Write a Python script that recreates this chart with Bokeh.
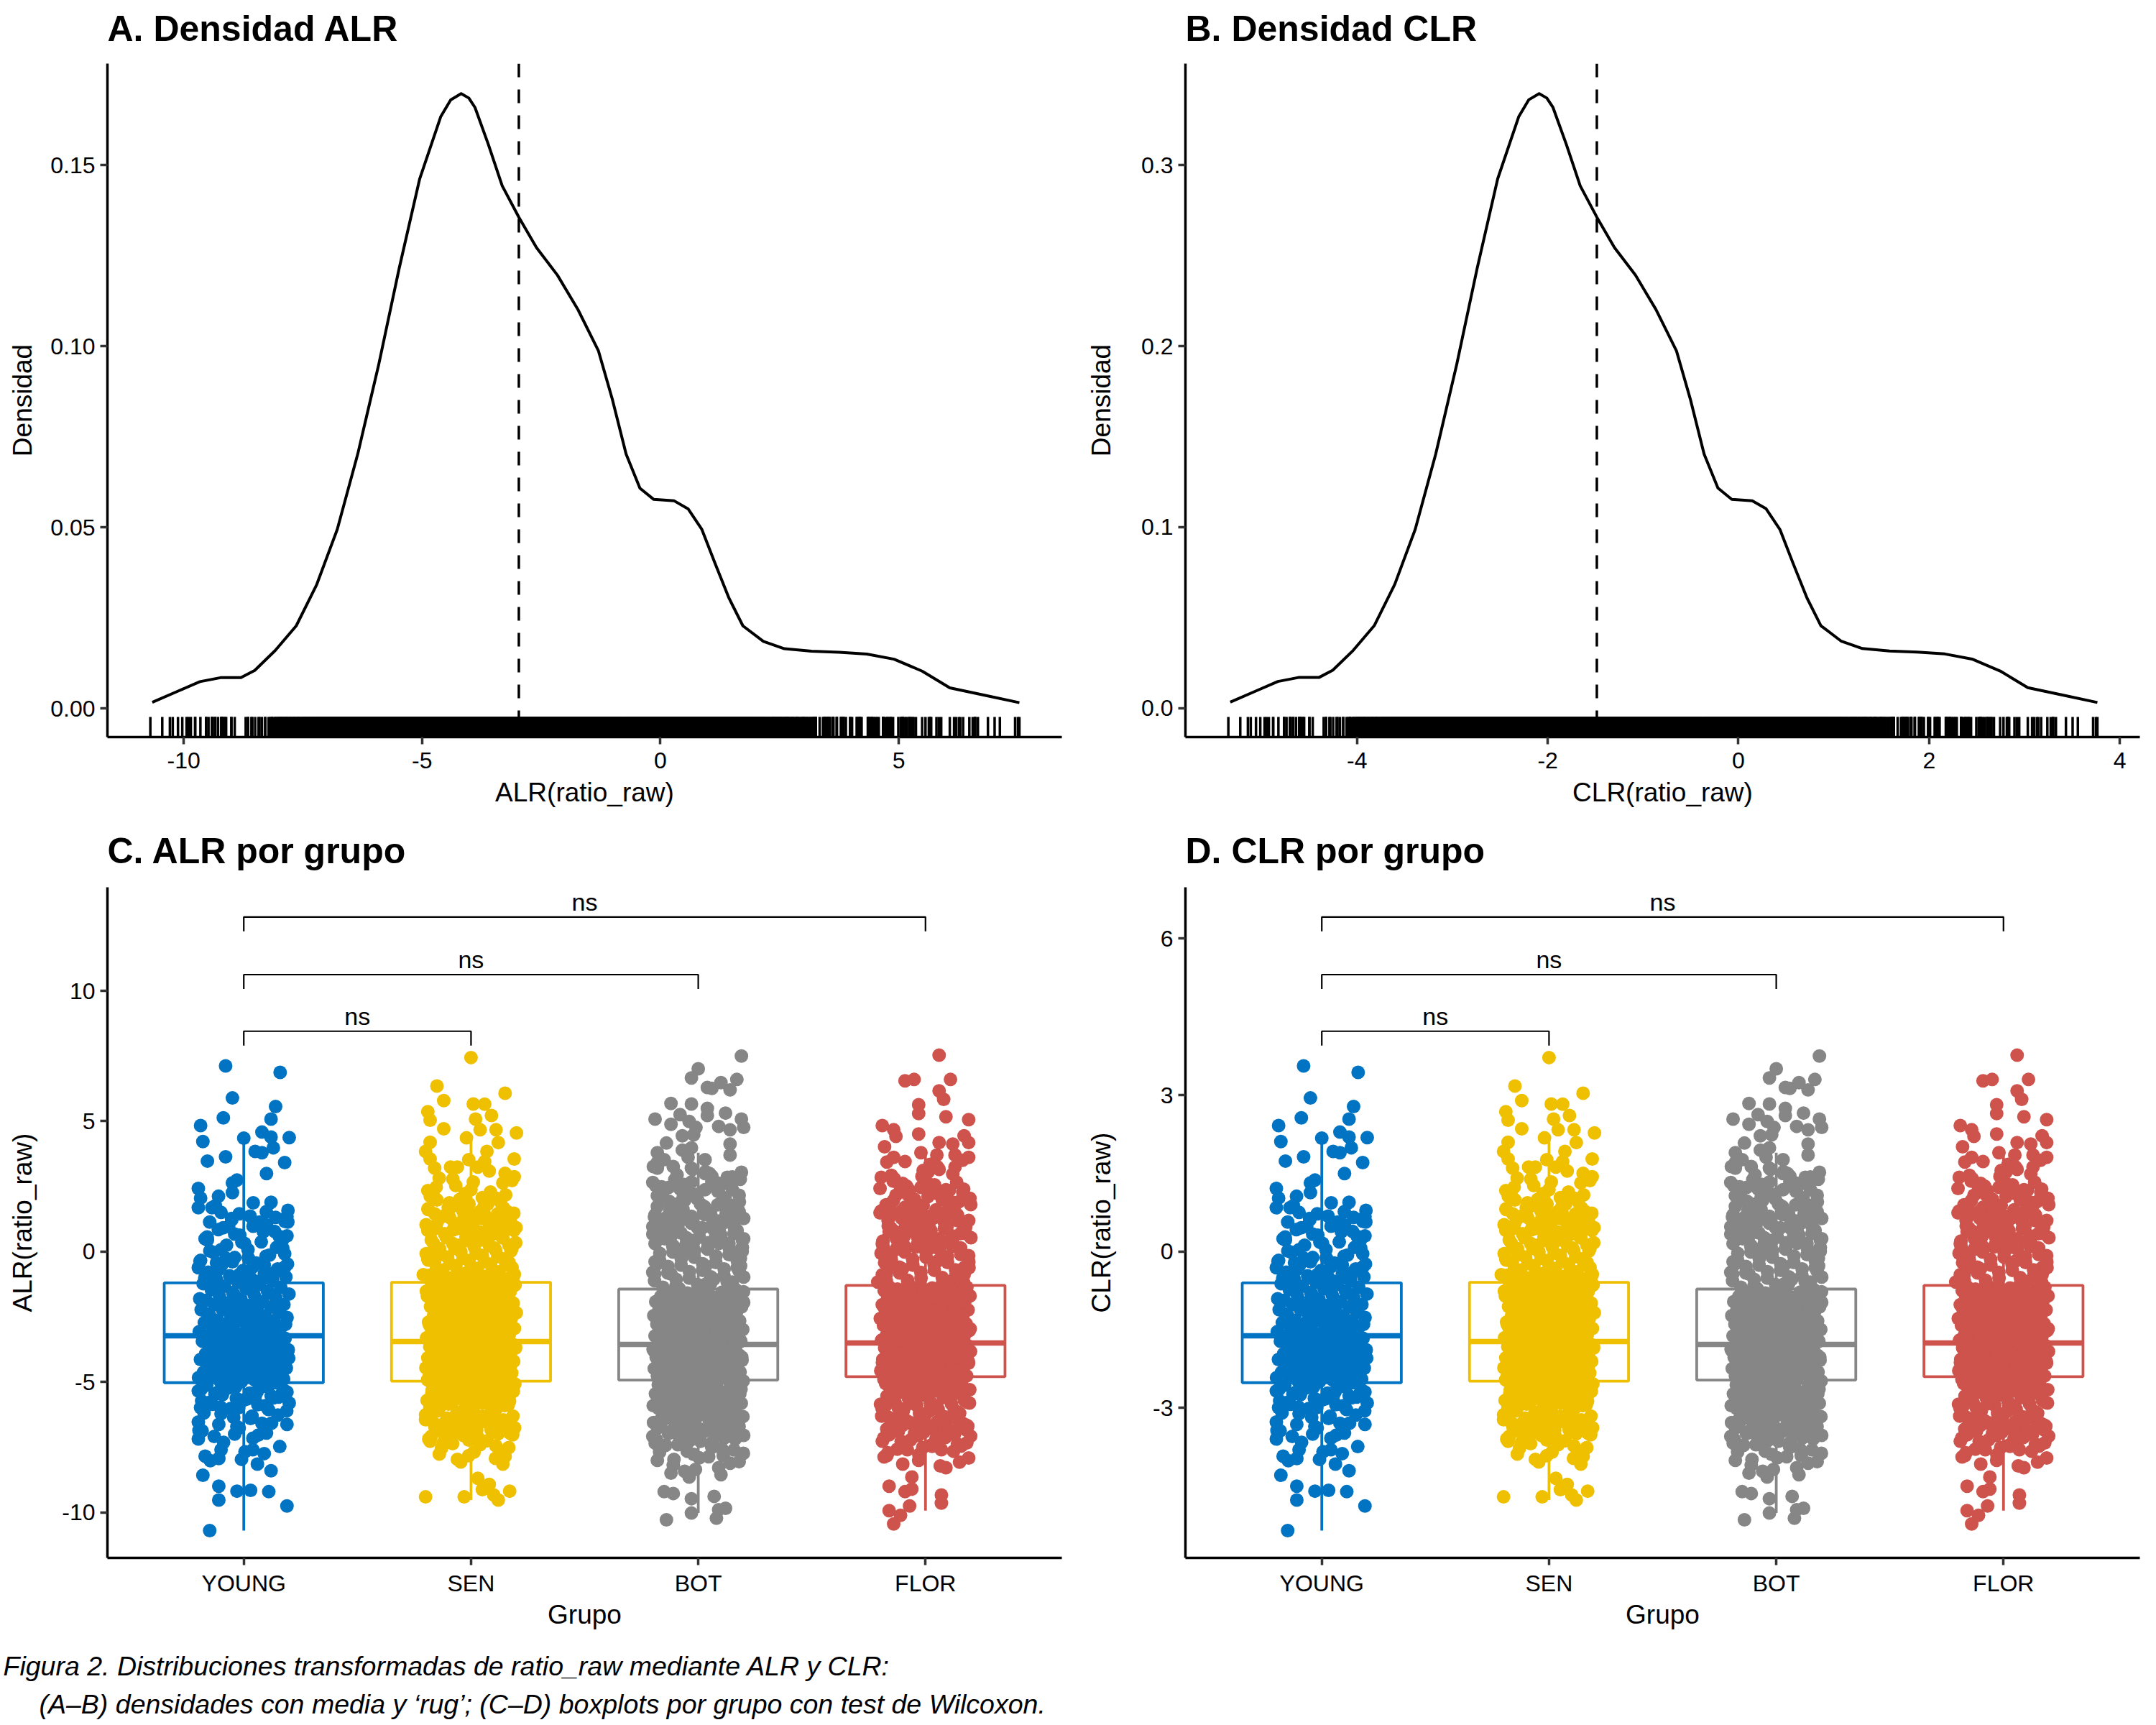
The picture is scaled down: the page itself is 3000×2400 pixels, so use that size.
from bokeh.plotting import figure
from bokeh.layouts import column, row
from bokeh.models import Range1d, FixedTicker
from bokeh.embed import file_html
from bokeh.resources import INLINE
from bokeh.core.properties import value

FONT = "Liberation Sans"
TICK_FS = "32px"
AXIS_FS = "37px"
TITLE_FS = "50px"

groups = ["YOUNG", "SEN", "BOT", "FLOR"]
colors = ["#0073C2", "#EFC000", "#868686", "#CD534C"]
panel_titles = ["A. Densidad ALR", "B. Densidad CLR", "C. ALR por grupo", "D. CLR por grupo"]

alr_dens_x = [-10.66, -10.1, -9.66, -9.23, -8.8, -8.51, -8.08, -7.64, -7.21, -6.78, -6.35, -5.91, -5.48, -5.05,
              -4.61, -4.40, -4.18, -4.02, -3.89, -3.61, -3.32, -2.97, -2.6, -2.16, -1.73, -1.30, -1.01, -0.72,
              -0.43, -0.14, 0.29, 0.58, 0.87, 1.15, 1.44, 1.73, 2.16, 2.6, 3.17, 3.75, 4.33, 4.9, 5.49, 6.07,
              6.78, 7.53]
alr_dens_y = [0.0017, 0.0049, 0.0074, 0.0085, 0.0085, 0.0105, 0.0160, 0.0228, 0.0342, 0.0494, 0.0702, 0.0949,
              0.1215, 0.1462, 0.1633, 0.1680, 0.1697, 0.1685, 0.1659, 0.1557, 0.1443, 0.1356, 0.1272, 0.1196,
              0.1101, 0.0987, 0.0854, 0.0702, 0.0608, 0.0577, 0.0573, 0.0551, 0.0494, 0.0399, 0.0304, 0.0228,
              0.0185, 0.0165, 0.0158, 0.0155, 0.0150, 0.0136, 0.0103, 0.0057, 0.0037, 0.0016]
clr_dens_x = [-5.33, -5.05, -4.83, -4.615, -4.40, -4.255, -4.04, -3.82, -3.605, -3.39, -3.175, -2.955, -2.74,
              -2.525, -2.305, -2.20, -2.09, -2.01, -1.945, -1.805, -1.66, -1.485, -1.30, -1.08, -0.865, -0.65,
              -0.505, -0.36, -0.215, -0.07, 0.145, 0.29, 0.435, 0.575, 0.72, 0.865, 1.08, 1.30, 1.585, 1.875,
              2.165, 2.45, 2.745, 3.035, 3.39, 3.765]
clr_dens_y = [0.0034, 0.0098, 0.0148, 0.0170, 0.0170, 0.0210, 0.0320, 0.0456, 0.0684, 0.0988, 0.1404, 0.1898,
              0.2430, 0.2924, 0.3266, 0.3360, 0.3394, 0.3370, 0.3318, 0.3114, 0.2886, 0.2712, 0.2544, 0.2392,
              0.2202, 0.1974, 0.1708, 0.1404, 0.1216, 0.1154, 0.1146, 0.1102, 0.0988, 0.0798, 0.0608, 0.0456,
              0.0370, 0.0330, 0.0316, 0.0310, 0.0300, 0.0272, 0.0206, 0.0114, 0.0074, 0.0032]
mean_alr = -2.97
mean_clr = -1.485

# ---------------- ALR values per group (estimated from panel C) ----------------
# sparse tails: read individually (value and horizontal jitter)
young_tail_dx = [-0.08, 0.16, -0.05, 0.14, -0.09, 0.12, -0.19, 0.08, 0.00, 0.20, 0.12, -0.18, 0.13, 0.05, 0.08,
                 -0.08, -0.16, 0.18, 0.10, -0.03, -0.05, -0.05, -0.20, -0.19, 0.12, -0.20, -0.14, -0.10, -0.02,
                 -0.15, 0.07, 0.14, 0.19, 0.19, -0.16, -0.04, -0.10, 0.02, 0.18, -0.19, 0.18, -0.20, -0.12, -0.05,
                 0.09,
                 -0.15, 0.19, -0.11, -0.18, -0.11, -0.03, 0.03, 0.11, 0.12, -0.17, -0.11, -0.01, 0.06, 0.09, -0.10,
                 0.04, -0.20, -0.13, -0.04, 0.04, 0.10, -0.20, -0.11, -0.02, 0.08, 0.19, -0.19, -0.10, 0.03, 0.15,
                 0.20, -0.20, 0.19]
young_tail_y = [7.12, 6.87, 5.89, 5.56, 5.13, 5.08, 4.83, 4.58, 4.35, 4.37, 4.39, 4.22, 3.98, 3.84, 3.79, 3.63,
                3.47, 3.41, 2.99, 2.74, 2.63, 2.26, 2.42, 2.05, 1.89, 1.68, 1.68, 1.50, 1.45, 1.13, 1.13, 1.31,
                1.34, 0.60, 0.44, 0.67, 0.07, -0.25, -0.09, -0.34, -0.60, -0.62, -0.43, -0.39, -0.52,
                -10.70, -9.76, -9.53, -8.58, -9.00, -9.19, -9.16, -9.21, -8.41, -7.85, -7.94, -7.97, -8.15, -7.75,
                -7.60, -7.60, -7.19, -7.09, -7.00, -7.16, -6.96, -6.54, -6.63, -6.77, -6.59, -6.63, -5.99, -6.22,
                -6.40, -6.27, -5.81, -5.35, -5.39]
sen_tail_dx = [0.00, -0.15, 0.15, -0.12, 0.01, 0.06, -0.19, 0.09, -0.18, 0.02, -0.12, 0.04, 0.11, 0.20, -0.02,
               0.12, -0.18, -0.20, 0.07, 0.19, -0.18, -0.01, 0.06, -0.09, -0.06, -0.16, 0.03, 0.08, 0.15, 0.19,
               -0.14, -0.08, 0.01, 0.14, -0.19, 0.05, 0.11, 0.13, -0.15, -0.10, -0.05, 0.04, 0.16, -0.16, -0.03,
               0.08, -0.19, 0.15, 0.18, -0.19, -0.21, 0.19,
               -0.20, -0.03, 0.12, 0.10, 0.17, 0.05, 0.03, 0.08, 0.14, 0.15, -0.06, -0.01, -0.13, -0.18, 0.04,
               0.11, 0.17, -0.20, -0.01, -0.09]
sen_tail_y = [7.44, 6.35, 6.07, 5.79, 5.66, 5.65, 5.36, 5.22, 5.04, 5.08, 4.71, 4.67, 4.67, 4.55, 4.36, 4.18, 4.19,
              3.84, 3.84, 3.55, 3.55, 3.52, 3.45, 3.24, 3.24, 3.20, 3.24, 3.09, 3.00, 2.87, 2.81, 2.78, 2.67, 2.63,
              2.34, 2.07, 2.05, 1.89, 1.98, 1.68, 2.00, 1.54, 1.39, 1.45, 1.36, 1.18, 0.81, 0.90, 0.12, -0.29,
              -0.89, -0.89,
              -9.41, -9.41, -9.53, -9.34, -9.19, -9.13, -8.70, -8.93, -8.15, -7.86, -7.97, -7.83, -7.55, -7.28,
              -7.41, -7.46, -6.96, -6.45, -7.23, -7.14]
bot_tail_dx = [0.19, 0.00, -0.03, 0.17, 0.04, 0.06, 0.10, 0.14, -0.12, -0.03, -0.19, -0.08, 0.04, 0.12, 0.04,
               0.19, -0.12, -0.04, -0.01, 0.09, 0.20, 0.14, -0.02, -0.07, -0.14, 0.14, -0.07, -0.03, -0.18, 0.14,
               -0.15, 0.03, -0.18, -0.11, -0.03, 0.19, 0.03, 0.06, 0.15, -0.20, -0.13, -0.08, -0.03, 0.09, 0.03,
               0.15, 0.18, -0.18, -0.12, -0.06, 0.01, -0.18, 0.10, 0.17, -0.19, -0.14, 0.20, -0.20, -0.20, 0.20,
               -0.19, 0.18, -0.19, 0.18, -0.20, 0.20,
               -0.14, -0.03, 0.08, 0.12, 0.09, 0.07, -0.03, -0.11, -0.15, -0.12, -0.04, -0.06, 0.10, 0.09, 0.18,
               -0.18, -0.11, -0.17, -0.02, 0.06, 0.11, -0.05, -0.20, 0.20]
bot_tail_y = [7.50, 7.01, 6.66, 6.60, 6.29, 6.26, 6.48, 6.20, 5.68, 5.66, 5.08, 5.25, 5.49, 5.31, 5.22, 5.08, 4.88,
              4.99, 4.76, 4.80, 4.76, 4.67, 4.48, 4.44, 4.16, 4.12, 3.89, 3.98, 3.79, 3.70, 3.52, 3.52, 3.20, 3.26,
              3.20, 3.04, 2.99, 2.89, 2.86, 2.65, 2.46, 2.40, 2.67, 2.62, 2.37, 2.37, 2.16, 2.14, 1.87, 1.96, 1.82,
              1.73, 1.87, 1.68, 1.41, 1.31, 1.27, 0.95, 0.67, 0.49, 0.30, -0.06, -0.39, -0.75, -0.80, -0.98,
              -10.29, -10.03, -10.23, -9.85, -9.90, -9.39, -9.48, -9.28, -9.21, -8.50, -8.65, -8.43, -8.56, -8.29,
              -8.06, -8.01, -8.19, -7.69, -7.78, -7.51, -7.83, -7.37, -7.09, -7.05]
flor_tail_dx = [0.06, -0.09, -0.05, 0.11, 0.06, 0.08, -0.03, -0.03, 0.09, 0.19, -0.19, -0.14, -0.13, -0.03, 0.17,
                0.19, -0.18, 0.06, 0.12, -0.02, -0.14, -0.17, -0.09, 0.05, 0.13, 0.19, 0.02, 0.06, 0.13, -0.15,
                -0.01, 0.12, -0.20, -0.07, -0.02, 0.04, 0.09, -0.13, 0.07, 0.12, -0.17, -0.09, -0.01, 0.10, 0.16,
                -0.07, -0.16, 0.20, -0.19, -0.19, 0.19, -0.18, 0.17, -0.19, 0.17, -0.21,
                -0.14, -0.16, -0.11, -0.07, -0.16, -0.09, -0.06, 0.07, 0.07, -0.06, 0.09, 0.15, 0.19, -0.10, -0.03,
                -0.17, 0.14, 0.07, -0.19, -0.08]
flor_tail_y = [7.53, 6.55, 6.60, 6.60, 6.16, 5.84, 5.63, 5.29, 5.17, 5.06, 4.83, 4.67, 4.42, 4.51, 4.44, 4.18, 4.02,
               4.18, 4.12, 3.79, 3.61, 3.43, 3.45, 3.70, 3.70, 3.61, 3.34, 3.15, 3.24, 2.92, 3.11, 2.97, 2.42, 2.34,
               2.46, 2.56, 2.37, 2.16, 2.14, 1.89, 1.59, 1.70, 1.77, 1.45, 1.13, 1.41, 0.76, 0.53, 0.30, -0.06,
               -0.16, -0.43, -0.62, -0.89, -0.89, -1.17,
               -10.45, -9.94, -10.12, -9.76, -9.00, -9.21, -9.11, -9.34, -9.65, -8.65, -8.29, -8.08, -7.92, -8.15,
               -8.01, -7.83, -7.46, -7.60, -7.28, -7.60]

# dense cores: estimated values
young_core = [1.53, 1.27, 1.13, 0.97, 0.84, 0.77, 0.63, 0.49, 0.37, 0.24, 0.13, 0.07, -0.03, -0.14, -0.23, -0.37,
              -0.44, -0.53, -0.67, -0.73, -0.79, -0.84, -0.93, -0.97, -1.03, -1.07, -1.13, -1.17,
              -1.23, -1.27, -1.33, -1.37, -1.43, -1.47, -1.53, -1.57, -1.63, -1.67, -1.73, -1.77, -1.83, -1.87,
              -1.93, -1.97, -2.03, -2.07, -2.04, -2.13, -2.17, -2.23, -2.27, -2.24, -2.33, -2.37, -2.43, -2.47,
              -2.44, -2.53, -2.57, -2.63, -2.67, -2.64, -2.73, -2.77, -2.83, -2.87, -2.84, -2.93, -2.97, -3.03,
              -3.07, -3.04, -3.13, -3.17, -3.14, -3.23, -3.27, -3.24,
              -3.33, -3.37, -3.34, -3.43, -3.47, -3.44, -3.53, -3.57, -3.54, -3.63, -3.67, -3.64, -3.73, -3.77,
              -3.74, -3.83, -3.87, -3.84, -3.93, -3.97, -3.94, -4.03, -4.07, -4.04, -4.13, -4.17, -4.14, -4.23,
              -4.27, -4.24, -4.33, -4.37, -4.34, -4.43, -4.47, -4.44, -4.53, -4.57, -4.54, -4.63, -4.67, -4.64,
              -4.73, -4.77, -4.74, -4.83, -4.87, -4.84, -4.93, -4.97, -5.03, -4.99,
              -5.13, -5.17, -5.23, -5.33, -5.43, -5.47, -5.53, -5.63, -5.73, -5.87,
              0.91, 0.58, 0.31, 0.02, -0.18, -0.31, -0.48, -0.59, -0.71, -0.81, -0.88, -1.01, -1.11, -0.26, 0.45,
              -1.29, -1.41, -1.58, -1.69, -1.81, -1.92, -2.08, -2.19, -2.31, -2.41, -2.58, -2.69, -2.79, -2.91,
              -3.01, -3.09, -3.21, -3.31, -3.41, -3.51, -3.61, -3.69, -3.79, -3.89, -4.01, -4.09, -4.19, -4.29,
              -4.39, -4.49, -4.59, -4.69, -4.79, -4.89, -4.02, -3.59,
              -5.08, -5.19, -5.29, -5.38, -5.49, -5.58, -5.69, -5.79, -5.91, -6.02, -6.11, -6.31, -5.41, -5.61,
              -5.99, -6.19]
young_core2 = [-5.06, -5.26, -5.46, -5.66, -5.86, -6.06, -6.36, -6.86, -5.56, -5.96, 0.16, 0.36, 0.56, 0.76,
               0.96, 1.16, 1.36, 1.76,
               -6.58, -6.71, -6.88, -7.04, -7.32, -7.48, -7.68, -8.02, 1.02, 1.22, 1.58, 1.87, 2.12]
sen_core = [1.61, 1.45, 1.31, 1.18, 1.05, 1.01, 0.95, 0.88, 0.81, 0.75, 0.68, 0.61, 0.56, 0.45, 0.38, 0.31, 0.25,
            0.18, 0.11, 0.05, -0.01, -0.08, -0.15, -0.21, -0.28, -0.35, -0.41, -0.48, -0.55, -0.61, -0.65, -0.71,
            -0.78, -0.85, -0.91, -0.95, -1.01, -1.05, -1.11, -1.15,
            -1.21, -1.25, -1.28, -1.31, -1.35, -1.38, -1.41, -1.45, -1.48, -1.51, -1.55, -1.58, -1.61, -1.65,
            -1.68, -1.71, -1.75, -1.78, -1.81, -1.85, -1.88, -1.91, -1.95, -1.98, -2.01, -2.05, -2.08, -2.06,
            -2.11, -2.15, -2.18, -2.21, -2.25, -2.28, -2.26, -2.31, -2.35, -2.38, -2.41, -2.45, -2.48, -2.46,
            -2.51, -2.55, -2.58, -2.61, -2.65, -2.68, -2.66, -2.71, -2.75, -2.78, -2.81, -2.85, -2.88, -2.86,
            -2.91, -2.95, -2.98, -3.01, -3.05, -3.08, -3.06, -3.11, -3.15, -3.18, -3.21, -3.25, -3.28, -3.26,
            -3.31, -3.35, -3.38, -3.41, -3.45, -3.48, -3.46,
            -3.51, -3.55, -3.58, -3.56, -3.50, -3.61, -3.65, -3.68, -3.66, -3.60, -3.71, -3.75, -3.78, -3.76,
            -3.70, -3.81, -3.85, -3.88, -3.86, -3.80, -3.91, -3.95, -3.98, -3.96, -3.90, -4.01, -4.05, -4.08,
            -4.06, -4.00, -4.11, -4.15, -4.18, -4.16, -4.10, -4.21, -4.25, -4.28, -4.26, -4.20, -4.31, -4.35,
            -4.38, -4.36, -4.30, -4.41, -4.45, -4.48, -4.46, -4.51, -4.55, -4.58, -4.56, -4.61, -4.65, -4.68,
            -4.66, -4.71, -4.75, -4.78, -4.76, -4.81, -4.85, -4.88, -4.91, -4.95, -4.98, -5.01, -5.05, -5.08,
            -5.11, -5.15, -5.21, -5.25, -5.31, -5.35, -5.41, -5.45, -5.51, -5.55, -5.61, -5.65, -5.71, -5.81,
            -5.85, -5.91, -6.01, -6.05, -6.11, -6.21, -6.31, -6.41, -6.61, -6.81,
            2.22, 2.12, 1.92, 1.72, 1.52, 1.39, 1.22, 1.12, 0.99, 0.92, 0.72, 0.62, 0.52, 0.42, 0.32, 0.22, 0.12,
            0.02, -0.06, -0.12, -0.19, -0.26, -0.33, -0.39, -0.46, -0.52, -0.59, -0.66, -0.72, -0.79, -0.86,
            -0.92, -0.99, -1.06, -1.12, -1.19, 1.82, 0.82, -0.42, 0.46,
            -1.22, -1.32, -1.42, -1.52, -1.62, -1.72, -1.82, -1.92, -2.02, -2.12, -2.22, -2.32, -2.42, -2.52,
            -2.62, -2.72, -2.82, -2.92, -3.02, -3.12, -3.22, -3.32, -3.42, -3.52, -3.62, -3.72, -3.82, -3.92,
            -4.02, -4.12, -4.22, -4.32, -4.42, -4.52, -4.62, -4.72, -4.82, -4.92, -3.99, -4.29,
            -5.02, -5.09, -5.16, -5.19, -5.28, -5.36, -5.42, -5.49, -5.56, -5.62, -5.69, -5.76, -5.79, -5.88,
            -5.96, -6.02, -6.09, -6.16, -6.26, -6.32, -6.39, -6.46, -6.52, -6.59, -6.66, -6.72, -6.79, -6.86,
            -6.92, -6.99, -7.06, -7.19, -5.32, -5.52, -5.72, -5.92, -6.12, -6.36, -6.56, -6.76]
sen_core2 = [-5.04, -5.13, -5.23, -5.34, -5.44, -5.53, -5.64, -5.74, -5.83, -5.94, -6.03, -6.14, -6.24, -6.33,
             -6.44, -6.54, -6.63, -6.74, -6.84, -6.93, -7.03, -7.13, -7.34, -7.63, -5.47, -5.97, -6.47, -6.97,
             -5.67, -6.17,
             0.04, 0.14, 0.24, 0.34, 0.44, 0.54, 0.64, 0.74, 0.84, 0.94, 1.04, 1.14, 1.24, 1.34, 1.44, 1.57, 1.64,
             1.77, 1.87, 2.17, 2.37, 2.47, 0.67, 1.07, 1.47,
             -6.57, -6.69, -6.78, -6.89, -7.09, -7.26, -7.37, -7.52, -7.69, -7.77, -7.93, -8.07, 1.03, 1.27, 1.48,
             1.66, 1.83, 2.09, 2.28, 2.53, 2.72]
bot_core = [3.62, 3.26, 2.99, 2.76, 2.52, 2.19, 1.96, 1.79, 1.62, 1.52, 1.42, 1.29, 1.16, 1.09, 0.96, 0.89, 0.76,
            0.69, 0.56, 0.49, 0.36, 0.29, 0.16, 0.09, -0.02, -0.12, -0.22, -0.32, -0.42, -0.52, -0.62, -0.72,
            -0.82, -0.92, -1.02, -1.12, -1.22, -1.32, 1.22, 0.92, 0.62, 0.32, 0.02, -0.26, -0.56, -0.86, -1.16,
            0.42, -0.46, -1.06,
            -1.42, -1.46, -1.49, -1.52, -1.56, -1.59, -1.54, -1.62, -1.66, -1.69, -1.64, -1.72, -1.76, -1.79,
            -1.74, -1.82, -1.86, -1.89, -1.84, -1.92, -1.96, -1.99, -1.94, -2.02, -2.06, -2.09, -2.04, -2.12,
            -2.16, -2.19, -2.14, -2.22, -2.26, -2.29, -2.24, -2.32, -2.36, -2.39, -2.34, -2.42, -2.46, -2.49,
            -2.44, -2.52, -2.56, -2.59, -2.54, -2.62, -2.66, -2.69, -2.64, -2.72, -2.76, -2.79, -2.74, -2.82,
            -2.86, -2.89, -2.84, -2.92, -2.96, -2.99, -2.94, -3.02, -3.06, -3.09, -3.04, -3.12, -3.16, -3.19,
            -3.14, -3.22, -3.26, -3.29, -3.24, -3.32, -3.36, -3.39, -3.34, -3.42, -3.46, -3.49, -3.44, -3.52,
            -3.56, -3.59, -3.54,
            -3.62, -3.66, -3.69, -3.64, -3.67, -3.72, -3.76, -3.79, -3.74, -3.77, -3.82, -3.86, -3.89, -3.84,
            -3.87, -3.92, -3.96, -3.99, -3.94, -3.97, -4.02, -4.06, -4.09, -4.04, -4.07, -4.12, -4.16, -4.19,
            -4.14, -4.17, -4.22, -4.26, -4.29, -4.24, -4.27, -4.32, -4.36, -4.39, -4.34, -4.37, -4.42, -4.46,
            -4.49, -4.44, -4.47, -4.52, -4.56, -4.59, -4.54, -4.57, -4.62, -4.66, -4.69, -4.64, -4.72, -4.76,
            -4.79, -4.74, -4.82, -4.86, -4.89, -4.84, -4.92, -4.96, -4.99, -4.94,
            -5.02, -5.06, -5.12, -5.16, -5.22, -5.26, -5.32, -5.36, -5.39, -5.42, -5.46, -5.52, -5.56, -5.62,
            -5.66, -5.69, -5.72, -5.76, -5.82, -5.86, -5.92, -5.96, -5.99, -6.02, -6.06, -6.12, -6.22, -6.26,
            -6.32, -6.42, -6.52, -6.56, -6.62, -6.72, -6.82, -6.92,
            2.48, 2.31, 2.08, 1.91, 1.71, 1.58, 1.45, 1.35, 1.25, 1.13, 1.03, 0.93, 0.83, 0.73, 0.63, 0.53, 0.43,
            0.33, 0.23, 0.13, 0.03, -0.07, -0.17, -0.27, -0.37, -0.47, -0.57, -0.67, -0.77, -0.87, -0.97, -1.07,
            -1.17, -1.27, -1.37, 0.85, 0.15, -0.55, -1.25, 1.55, 2.85, 3.15, 3.45, 2.65, 1.85,
            -1.45, -1.55, -1.65, -1.75, -1.85, -1.95, -2.05, -2.15, -2.25, -2.35, -2.45, -2.55, -2.65, -2.75,
            -2.85, -2.95, -3.05, -3.15, -3.25, -3.35, -3.45, -3.55, -3.65, -3.75, -3.85, -3.95, -4.05, -4.15,
            -4.25, -4.35, -4.45, -4.55, -4.65, -4.75, -4.85, -4.91, -3.61, -4.11, -2.61, -3.81,
            -4.98, -5.05, -5.13, -5.18, -5.25, -5.33, -5.38, -5.45, -5.53, -5.58, -5.65, -5.73, -5.78, -5.85,
            -5.93, -5.98, -6.05, -6.13, -6.18, -6.25, -6.33, -6.38, -6.45, -6.53, -6.58, -6.65, -6.73, -6.78,
            -6.85, -6.93, -6.98, -7.15, -7.25, -7.35, -7.45, -5.55, -5.85, -6.15, -6.45, -6.75, -7.05, -5.28,
            -5.68, -6.08, -6.48]
bot_core2 = [-5.01, -5.11, -5.21, -5.31, -5.41, -5.51, -5.61, -5.71, -5.81, -5.91, -6.01, -6.11, -6.21, -6.31,
             -6.41, -6.51, -6.61, -6.71, -6.81, -6.91, -7.01, -7.11, -7.21, -7.31, -7.41, -7.61, -7.91, -6.37,
             -5.87, -6.87,
             0.01, 0.11, 0.21, 0.31, 0.41, 0.51, 0.61, 0.71, 0.81, 0.91, 1.01, 1.11, 1.21, 1.33, 1.47, 1.67, 1.77,
             2.01, 2.27, 2.41, 2.57, 2.77, 3.07, 0.57, 1.37,
             -6.64, -6.77, -6.96, -7.08, -7.19, -7.28, -7.43, -7.57, -7.66, -7.74, -7.87, -7.97, -8.12, -8.36,
             1.06, 1.18, 1.39, 1.58, 1.74, 1.93, 2.06, 2.22, 2.53, 2.68, 2.94]
flor_core = [3.50, 3.04, 2.70, 2.34, 2.00, 1.80, 1.60, 1.54, 1.40, 1.34, 1.20, 1.14, 1.00, 0.94, 0.80, 0.74, 0.60,
             0.54, 0.40, 0.34, 0.20, 0.14, 0.00, -0.10, -0.20, -0.30, -0.40, -0.50, -0.60, -0.70, -0.80, -0.90,
             -1.00, -1.10, -1.20, 1.07, 0.77, 0.47, 0.17, -0.07, -0.37, -0.67, -0.97, 0.27, -0.54,
             -1.30, -1.34, -1.37, -1.40, -1.44, -1.47, -1.43, -1.50, -1.54, -1.57, -1.53, -1.60, -1.64, -1.67,
             -1.63, -1.70, -1.74, -1.77, -1.73, -1.80, -1.84, -1.87, -1.83, -1.90, -1.94, -1.97, -1.93, -2.00,
             -2.04, -2.07, -2.03, -2.10, -2.14, -2.17, -2.13, -2.20, -2.24, -2.27, -2.23, -2.30, -2.34, -2.37,
             -2.33, -2.40, -2.44, -2.47, -2.43, -2.50, -2.54, -2.57, -2.53, -2.60, -2.64, -2.67, -2.63, -2.70,
             -2.74, -2.77, -2.73, -2.80, -2.84, -2.87, -2.83, -2.90, -2.94, -2.97, -2.93, -3.00, -3.04, -3.07,
             -3.03, -3.10, -3.14, -3.17, -3.13, -3.20, -3.24, -3.27, -3.23, -3.30, -3.34, -3.37, -3.33, -3.40,
             -3.44, -3.47, -3.43, -3.50, -3.54, -3.57, -3.53,
             -3.60, -3.64, -3.67, -3.63, -3.68, -3.70, -3.74, -3.77, -3.73, -3.78, -3.80, -3.84, -3.87, -3.83,
             -3.88, -3.90, -3.94, -3.97, -3.93, -3.98, -4.00, -4.04, -4.07, -4.03, -4.08, -4.10, -4.14, -4.17,
             -4.13, -4.18, -4.20, -4.24, -4.27, -4.23, -4.28, -4.30, -4.34, -4.37, -4.33, -4.38, -4.40, -4.44,
             -4.47, -4.43, -4.48, -4.50, -4.54, -4.57, -4.53, -4.60, -4.64, -4.67, -4.63, -4.70, -4.74, -4.77,
             -4.73, -4.80, -4.84, -4.87,
             -4.90, -4.94, -5.00, -5.04, -5.10, -5.14, -5.20, -5.24, -5.30, -5.34, -5.40, -5.44, -5.50, -5.54,
             -5.60, -5.64, -5.70, -5.74, -5.80, -5.84, -5.90, -6.00, -6.04, -6.10, -6.20, -6.30, -6.40, -6.50,
             -6.60, -6.70, -6.80, -6.90, -7.00, -6.24, -5.94, -6.54,
             2.51, 2.28, 2.11, 1.95, 1.75, 1.65, 1.48, 1.38, 1.28, 1.18, 1.08, 0.98, 0.88, 0.78, 0.68, 0.58, 0.48,
             0.38, 0.28, 0.18, 0.08, -0.02, -0.12, -0.22, -0.32, -0.42, -0.52, -0.62, -0.72, -0.82, -0.92, -1.02,
             -1.12, -1.22, -1.28, 0.88, 0.11, -0.61, -1.15, 1.51, 2.85, 3.25, 2.61, 1.91, 0.65,
             -1.36, -1.46, -1.56, -1.66, -1.76, -1.86, -1.96, -2.06, -2.16, -2.26, -2.36, -2.46, -2.56, -2.66,
             -2.76, -2.86, -2.96, -3.06, -3.16, -3.26, -3.36, -3.46, -3.56, -3.66, -3.76, -3.86, -3.96, -4.06,
             -4.16, -4.26, -4.36, -4.46, -4.56, -4.66, -4.76, -4.79, -3.61, -4.21, -2.71, -3.91,
             -4.86, -4.96, -5.06, -5.16, -5.26, -5.36, -5.46, -5.56, -5.66, -5.76, -5.86, -5.96, -6.06, -6.16,
             -6.26, -6.36, -6.46, -6.56, -6.66, -6.76, -6.86, -6.96, -7.06, -7.16, -7.26, -7.36, -7.46, -5.01,
             -5.21, -5.41, -5.61, -5.81, -6.01, -6.21, -6.41, -6.61, -6.81, -7.01, -5.31, -5.71, -6.11, -6.51,
             -6.91, -5.51, -6.31]
flor_core2 = [-5.08, -5.18, -5.28, -5.38, -5.48, -5.58, -5.68, -5.78, -5.88, -5.98, -6.08, -6.18, -6.28, -6.38,
              -6.48, -6.58, -6.68, -6.78, -6.88, -6.98, -7.08, -7.18, -7.28, -7.38, -7.52, -7.72, -6.33, -5.83,
              -6.83, -7.43,
              0.09, 0.19, 0.29, 0.39, 0.49, 0.59, 0.69, 0.79, 0.89, 0.99, 1.09, 1.19, 1.29, 1.39, 1.49, 1.69,
              1.79, 1.99, 2.19, 2.39, 2.59, 2.79, 0.35, 0.95, 1.55,
              -6.53, -6.67, -6.74, -6.93, -7.03, -7.13, -7.22, -7.34, -7.47, -7.58, -7.66, -7.79, -7.88, -8.22,
              1.04, 1.16, 1.36, 1.52, 1.63, 1.84, 2.04, 2.24, 2.46, 2.66, 2.88]

alr_q1 = [-5.03, -4.97, -4.93, -4.80]
alr_med = [-3.23, -3.45, -3.56, -3.51]
alr_q3 = [-1.20, -1.18, -1.44, -1.30]
alr_lo = [-10.70, -9.53, -10.03, -9.94]
alr_hi = [4.35, 4.36, 3.79, 3.79]
clr_q1 = [-2.515, -2.485, -2.465, -2.40]
clr_med = [-1.615, -1.725, -1.78, -1.755]
clr_q3 = [-0.60, -0.59, -0.72, -0.65]
clr_lo = [-5.35, -4.765, -5.015, -4.97]
clr_hi = [2.175, 2.18, 1.895, 1.895]

# Wilcoxon comparisons
comparisons = [("YOUNG", "SEN"), ("YOUNG", "BOT"), ("YOUNG", "FLOR")]
comp_labels = ["ns", "ns", "ns"]
bracket_y_alr = [8.45, 10.62, 12.83]
bracket_y_clr = [4.225, 5.31, 6.415]

caption_lines = ["Figura 2. Distribuciones transformadas de ratio_raw mediante ALR y CLR:",
                 "(A\u2013B) densidades con media y \u2018rug\u2019; (C\u2013D) boxplots por grupo con test de Wilcoxon."]

# ---------------- assemble per-group data ----------------
def spread(n, phase):
    return [(((k + 1) * 0.6180339887 + phase) % 1.0 - 0.5) * 0.4 for k in range(n)]

tails_dx = [young_tail_dx, sen_tail_dx, bot_tail_dx, flor_tail_dx]
tails_y = [young_tail_y, sen_tail_y, bot_tail_y, flor_tail_y]
cores = [young_core + young_core2, sen_core + sen_core2, bot_core + bot_core2, flor_core + flor_core2]
phases = [0.13, 0.41, 0.77, 0.29]

alr_by_group = []
dx_by_group = []
for i in range(4):
    n = min(len(tails_dx[i]), len(tails_y[i]))
    ys = list(tails_y[i][:n]) + list(cores[i])
    dxs = list(tails_dx[i][:n]) + spread(len(cores[i]), phases[i])
    alr_by_group.append(ys)
    dx_by_group.append(dxs)
# CLR of a two-part composition equals ALR / 2
clr_by_group = [[v / 2.0 for v in ys] for ys in alr_by_group]
alr_all = [v for ys in alr_by_group for v in ys]
clr_all = [v for ys in clr_by_group for v in ys]


def base_fig(width, height, xr, yr, bottom, left=149, right=23):
    p = figure(width=width, height=height, x_range=Range1d(*xr), y_range=Range1d(*yr),
               output_backend="svg", toolbar_location=None,
               min_border_left=left, min_border_right=right, min_border_top=0, min_border_bottom=bottom)
    p.outline_line_color = None
    p.grid.visible = False
    p.background_fill_color = "white"
    p.border_fill_color = "white"
    for ax in (p.xaxis[0], p.yaxis[0]):
        ax.axis_line_color = "black"
        ax.axis_line_width = 3.5
        ax.major_tick_line_color = "#333333"
        ax.major_tick_line_width = 3.5
        ax.major_tick_out = 10
        ax.major_tick_in = 0
        ax.minor_tick_line_color = None
        ax.major_label_text_font = FONT
        ax.major_label_text_font_size = TICK_FS
        ax.major_label_text_color = "black"
        ax.axis_label_text_font = FONT
        ax.axis_label_text_font_size = AXIS_FS
        ax.axis_label_text_font_style = "normal"
        ax.axis_label_text_color = "black"
    p.yaxis.major_label_standoff = 7
    return p


def title_strip(height, ypos, texts):
    t = figure(width=3000, height=height, x_range=Range1d(0, 3000), y_range=Range1d(height, 0),
               output_backend="svg", toolbar_location=None, min_border=0,
               x_axis_type=None, y_axis_type=None)
    t.outline_line_color = None
    t.grid.visible = False
    t.text(x=[149, 1649], y=[ypos, ypos], text=texts, text_align="left", text_baseline="alphabetic",
           text_font=value(FONT), text_font_size=TITLE_FS, text_font_style="bold", text_color="black")
    return t


def set_ticks(ax, ticks, labels):
    ax.ticker = FixedTicker(ticks=ticks)
    ax.major_label_overrides = {t: l for t, l in zip(ticks, labels)}


def density_panel(xlab, dx, dy, mean, vals, xr, yr, xticks, xlabels, yticks, ylabels, ystand):
    p = base_fig(1500, 1052, xr, yr, bottom=115)
    p.xaxis.axis_label = xlab
    p.xaxis.major_label_standoff = 11
    p.xaxis.axis_label_standoff = 10
    p.yaxis.axis_label = "Densidad"
    p.yaxis.axis_label_standoff = ystand
    set_ticks(p.xaxis[0], xticks, xlabels)
    set_ticks(p.yaxis[0], yticks, ylabels)
    p.line(dx, dy, line_color="black", line_width=4, line_join="round")
    p.segment(x0=[mean], y0=[yr[1]], x1=[mean], y1=[yr[0]], line_color="black",
              line_width=3.5, line_dash="19 17")
    rug_top = yr[0] + 0.03 * (yr[1] - yr[0])
    n = len(vals)
    p.segment(x0=vals, y0=[yr[0]] * n, x1=vals, y1=[rug_top] * n, line_color="black", line_width=3.5)
    return p


def box_panel(ylab, vals_by_group, q1, med, q3, lo, hi, yr, yticks, ylabels, br_y, br_tick, ystand):
    p = base_fig(1500, 1046, (0.4, 4.6), yr, bottom=113)
    p.xaxis.axis_label = "Grupo"
    p.xaxis.major_label_standoff = 7
    p.xaxis.axis_label_standoff = 2
    p.yaxis.axis_label = ylab
    p.yaxis.axis_label_standoff = ystand
    pos = [i + 1 for i in range(len(groups))]
    set_ticks(p.xaxis[0], pos, groups)
    set_ticks(p.yaxis[0], yticks, ylabels)
    p.segment(x0=pos, y0=q3, x1=pos, y1=hi, line_color=colors, line_width=3.8)
    p.segment(x0=pos, y0=q1, x1=pos, y1=lo, line_color=colors, line_width=3.8)
    p.quad(left=[x - 0.35 for x in pos], right=[x + 0.35 for x in pos], bottom=q1, top=q3,
           fill_color="white", line_color=colors, line_width=3.8)
    p.segment(x0=[x - 0.35 for x in pos], y0=med, x1=[x + 0.35 for x in pos], y1=med,
              line_color=colors, line_width=7.5)
    for i in range(len(groups)):
        xs = [pos[i] + d for d in dx_by_group[i]]
        p.scatter(xs, vals_by_group[i], size=19, fill_color=colors[i], line_color=None)
    xs_b, ys_b, tx, ty = [], [], [], []
    for (g1, g2), yb in zip(comparisons, br_y):
        a = groups.index(g1) + 1
        b = groups.index(g2) + 1
        xs_b.append([a, a, b, b])
        ys_b.append([yb - br_tick, yb, yb, yb - br_tick])
        tx.append((a + b) / 2.0)
        ty.append(yb)
    p.multi_line(xs_b, ys_b, line_color="black", line_width=2.2)
    p.text(tx, ty, text=comp_labels, text_align="center", text_baseline="alphabetic", y_offset=-21,
           text_font=value(FONT), text_font_size="34px", text_color="black")
    return p


t1 = title_strip(88, 39, panel_titles[0:2])
pa = density_panel("ALR(ratio_raw)", alr_dens_x, alr_dens_y, mean_alr, alr_all,
                   (-11.6, 8.42), (-0.0079, 0.178), [-10, -5, 0, 5], ["-10", "-5", "0", "5"],
                   [0, 0.05, 0.10, 0.15], ["0.00", "0.05", "0.10", "0.15"], 15)
pb = density_panel("CLR(ratio_raw)", clr_dens_x, clr_dens_y, mean_clr, clr_all,
                   (-5.8, 4.21), (-0.0159, 0.356), [-4, -2, 0, 2, 4], ["-4", "-2", "0", "2", "4"],
                   [0, 0.1, 0.2, 0.3], ["0.0", "0.1", "0.2", "0.3"], 32)
t2 = title_strip(94, 43, panel_titles[2:4])
pc = box_panel("ALR(ratio_raw)", alr_by_group, alr_q1, alr_med, alr_q3, alr_lo, alr_hi,
               (-11.75, 13.97), [-10, -5, 0, 5, 10], ["-10", "-5", "0", "5", "10"], bracket_y_alr, 0.55, 31)
pd_ = box_panel("CLR(ratio_raw)", clr_by_group, clr_q1, clr_med, clr_q3, clr_lo, clr_hi,
                (-5.875, 6.985), [-3, 0, 3, 6], ["-3", "0", "3", "6"], bracket_y_clr, 0.275, 48)

cap = figure(width=3000, height=120, x_range=Range1d(0, 3000), y_range=Range1d(120, 0),
             output_backend="svg", toolbar_location=None, min_border=0,
             x_axis_type=None, y_axis_type=None)
cap.outline_line_color = None
cap.grid.visible = False
cap.text(x=[4, 54], y=[37, 90], text=caption_lines, text_align="left", text_baseline="alphabetic",
         text_font=value(FONT), text_font_size="37.5px", text_font_style="italic", text_color="black")

layout = column(t1, row(pa, pb), t2, row(pc, pd_), cap)
open("out.html", "w").write(file_html(layout, INLINE))
